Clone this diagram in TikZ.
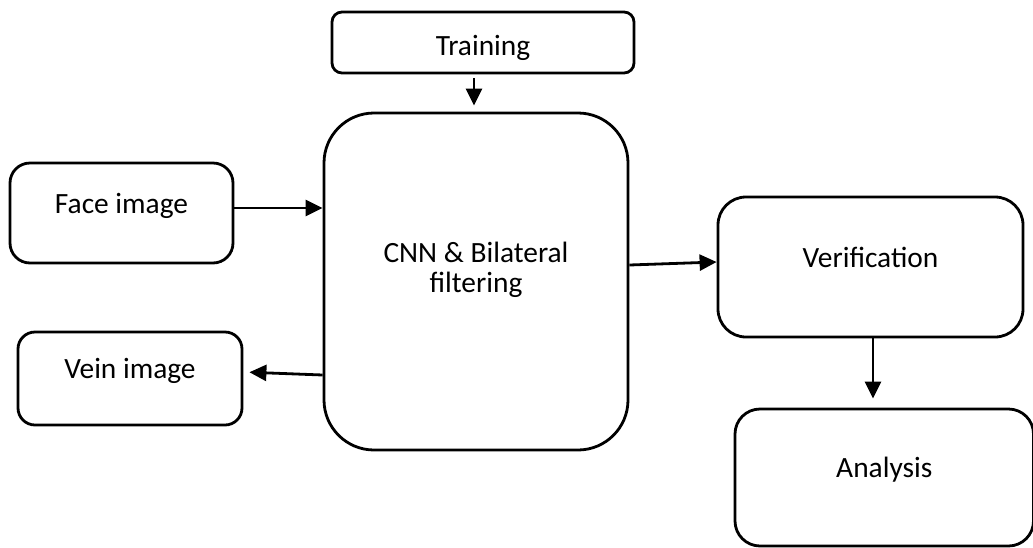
\documentclass[tikz,border=0pt]{standalone}
\usepackage{fontspec}
\setmainfont{Carlito}
\usetikzlibrary{arrows.meta}

\begin{document}
\begin{tikzpicture}[x=1pt, y=-1pt, every node/.style={font=\fontsize{29.4}{30}\selectfont},
  blk/.style={draw, line width=2.8pt, inner sep=0pt, text height=20pt, text depth=20pt},
  arr/.style={line width=2.8pt, -{Triangle[length=17pt,width=16pt]}}]
  \useasboundingbox (0,0) rectangle (1033,547);
  \node[blk, rounded corners=10pt, minimum width=302pt, minimum height=61pt, text height=26pt, text depth=1pt] (train) at (483,42.5) {Training};
  \node[blk, rounded corners=50pt, minimum width=304pt, minimum height=337pt, align=center, text height=40pt, text depth=19pt] (cnn) at (476,281.5) {CNN \& Bilateral\\filtering};
  \node[blk, rounded corners=20pt, minimum width=223pt, minimum height=100pt] (face) at (121.5,213) {Face image};
  \node[blk, rounded corners=17pt, minimum width=224pt, minimum height=93pt] (vein) at (130,378.5) {Vein image};
  \node[blk, rounded corners=28pt, minimum width=305pt, minimum height=140pt] (verif) at (870.5,267) {Verification};
  \node[blk, rounded corners=25pt, minimum width=298.5pt, minimum height=137pt] (anal) at (884.25,477.5) {Analysis};
  \draw[arr, shorten <=4pt, shorten >=6pt] ([xshift=-9pt]train.south) -- ([xshift=-9pt]train.south |- cnn.north);
  \draw[arr] ([yshift=5pt]face.east) -- ([yshift=5pt]face.east -| cnn.west);
  \draw[arr, shorten >=6pt] ([yshift=-93.5pt]cnn.west) -- ([yshift=6.5pt]vein.east);
  \draw[arr] ([yshift=16.5pt]cnn.east) -- ([yshift=5pt]verif.west);
  \draw[arr, shorten >=9pt] ([xshift=2.5pt]verif.south) -- ([xshift=2.5pt]verif.south |- anal.north);
\end{tikzpicture}
\end{document}
